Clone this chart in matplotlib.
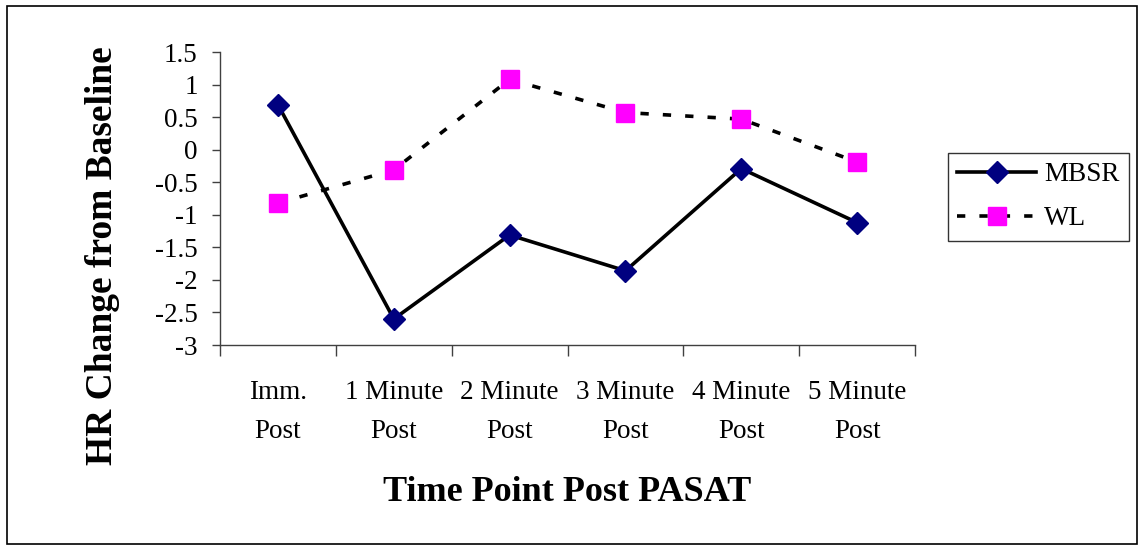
"""HR change from baseline after PASAT, MBSR vs WL."""
import matplotlib
matplotlib.use('Agg')
import matplotlib.pyplot as plt
from matplotlib.patches import Rectangle

# ─── Data ───
categories = ['Imm.\nPost', '1 Minute\nPost', '2 Minute\nPost',
              '3 Minute\nPost', '4 Minute\nPost', '5 Minute\nPost']
mbsr = [0.69, -2.60, -1.31, -1.86, -0.29, -1.12]
wl = [-0.82, -0.31, 1.08, 0.57, 0.47, -0.19]
yticks = [1.5, 1, 0.5, 0, -0.5, -1, -1.5, -2, -2.5, -3]

plt.rcParams['font.family'] = ['Liberation Serif', 'DejaVu Serif']

fig = plt.figure(figsize=(11.39, 5.46), dpi=100)
ax = fig.add_axes([0.1932, 0.3681, 0.6102, 0.5366])

x = list(range(len(categories)))
ax.plot(x, mbsr, color='black', lw=2.6, marker='D', markersize=11,
        markerfacecolor='#000080', markeredgecolor='#000080', label='MBSR')
ax.plot(x, wl, color='black', lw=2.6, dashes=(2.3, 3.9), marker='s', markersize=13,
        markerfacecolor='#FF00FF', markeredgecolor='#FF00FF', label='WL')

ax.set_xlim(-0.5, len(categories) - 0.5)
ax.set_ylim(-3, 1.5)
ax.set_yticks(yticks)
ax.set_yticklabels([f'{v:g}' for v in yticks], fontsize=19.5)

# category labels between boundary ticks
ax.set_xticks([i - 0.5 for i in range(len(categories) + 1)])
ax.set_xticklabels([])
ax.set_xticks(x, minor=True)
ax.set_xticklabels(categories, minor=True, fontsize=19.5, linespacing=1.75)
ax.tick_params(axis='x', which='minor', length=0, pad=25)
ax.tick_params(axis='x', which='major', length=8, width=1, color='#404040', direction='out')
ax.tick_params(axis='y', length=6, width=1, color='#404040', direction='out', pad=10)

for s in ['top', 'right']:
    ax.spines[s].set_visible(False)
for s in ['left', 'bottom']:
    ax.spines[s].set_color('#404040')
    ax.spines[s].set_linewidth(1)

fig.text(0.090, 0.531, 'HR Change from Baseline', fontsize=27, fontweight='bold',
         rotation=90, ha='center', va='center')
fig.text(0.498, 0.098, 'Time Point Post PASAT', fontsize=26, fontweight='bold',
         ha='center', va='center')

leg = fig.legend(loc='upper left', bbox_to_anchor=(948 / 1139, 1 - 153 / 546), fontsize=19.5,
                 frameon=True, fancybox=False, edgecolor='black', handlelength=2.9,
                 borderpad=0.35, labelspacing=0.7, handletextpad=0.3, borderaxespad=0)
leg.get_frame().set_linewidth(1)

fig.patches.append(Rectangle((0.006, 0.004), 0.992, 0.985, transform=fig.transFigure,
                             fill=False, edgecolor='black', lw=1.2))

fig.savefig('out.png', dpi=100)
